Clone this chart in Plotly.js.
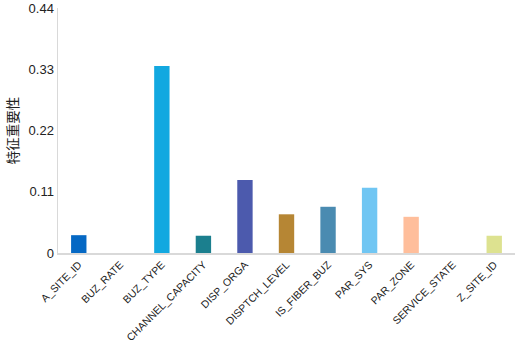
<!DOCTYPE html>
<html>
<head>
<meta charset="utf-8">
<script src="https://cdn.plot.ly/plotly-3.0.1.min.js"></script>
<style>html,body{margin:0;padding:0;background:#fff;}#chart{width:519px;height:340px;}</style>
</head>
<body>
<div id="chart"></div>
<script>
const categories = ["A_SITE_ID","BUZ_RATE","BUZ_TYPE","CHANNEL_CAPACITY","DISP_ORGA","DISPTCH_LEVEL","IS_FIBER_BUZ","PAR_SYS","PAR_ZONE","SERVICE_STATE","Z_SITE_ID"];
const importance = [0.032, 0, 0.336, 0.031, 0.131, 0.0695, 0.083, 0.117, 0.065, 0, 0.031];
const barColors = ["#0568c4","#888888","#12a8e0","#1b7f8e","#4c5aad","#b68634","#4a8bb1","#70c6f3","#ffbe9b","#aaaaaa","#dde290"];
const yTickVals = [0, 0.11, 0.22, 0.33, 0.44];
const yTickText = ["0", "0.11", "0.22", "0.33", "0.44"];

Plotly.newPlot("chart", [{
  type: "bar",
  x: categories,
  y: importance,
  marker: {color: barColors, line: {width: 0}},
  hoverinfo: "x+y"
}], {
  width: 519, height: 340,
  margin: {l: 58, r: 4, t: 8, b: 87},
  paper_bgcolor: "#fff", plot_bgcolor: "#fff",
  bargap: 0.63,
  showlegend: false,
  font: {family: "Liberation Sans, Arial, sans-serif", color: "#222"},
  xaxis: {
    tickangle: -45,
    tickfont: {size: 10.5, color: "#222"},
    showline: true, linecolor: "#d9d9d9", linewidth: 1.5,
    ticks: "", showgrid: false, zeroline: false
  },
  yaxis: {
    range: [0, 0.44],
    tickvals: yTickVals, ticktext: yTickText,
    tickfont: {size: 13, color: "#222"},
    showline: true, linecolor: "#d9d9d9", linewidth: 1.5,
    ticks: "", ticklen: 0, showgrid: false, zeroline: false,
    title: {text: "特征重要性", font: {family: "Noto Sans CJK SC", size: 13.5, color: "#222"}, standoff: 7}
  }
}, {displayModeBar: false, staticPlot: true});
</script>
</body>
</html>
